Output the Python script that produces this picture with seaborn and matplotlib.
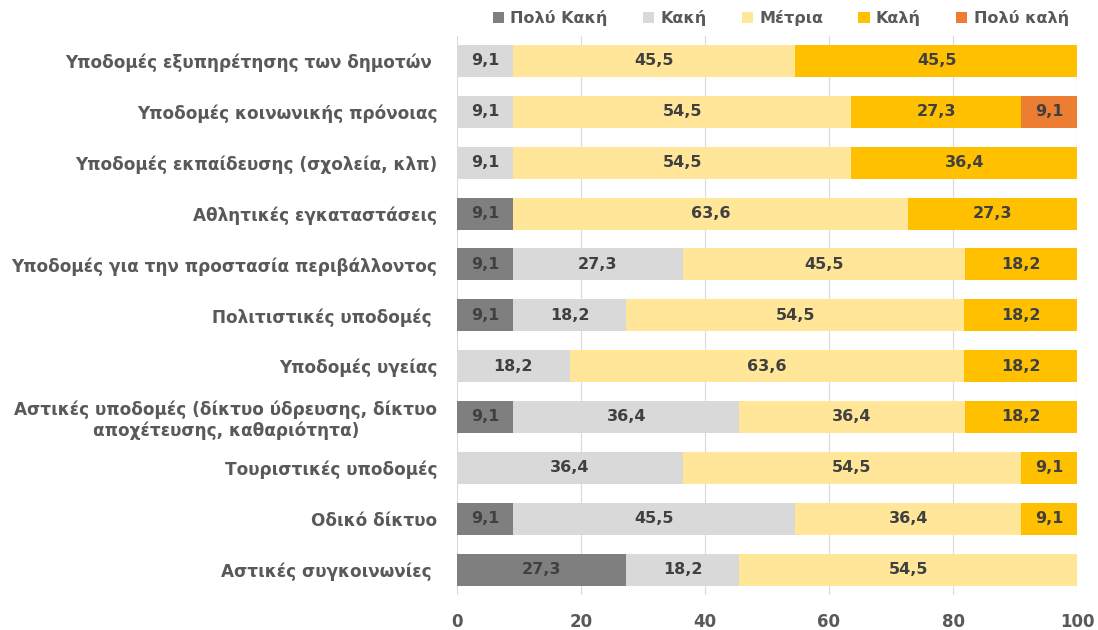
import numpy as np
import pandas as pd
import matplotlib
matplotlib.use("Agg")
import matplotlib.pyplot as plt
from matplotlib.patches import Patch
import seaborn as sns

categories = [
    "Υποδομές εξυπηρέτησης των δημοτών ",
    "Υποδομές κοινωνικής πρόνοιας",
    "Υποδομές εκπαίδευσης (σχολεία, κλπ)",
    "Αθλητικές εγκαταστάσεις",
    "Υποδομές για την προστασία περιβάλλοντος",
    "Πολιτιστικές υποδομές ",
    "Υποδομές υγείας",
    "Αστικές υποδομές (δίκτυο ύδρευσης, δίκτυο\nαποχέτευσης, καθαριότητα)",
    "Τουριστικές υποδομές",
    "Οδικό δίκτυο",
    "Αστικές συγκοινωνίες ",
]
series_names = ["Πολύ Κακή", "Κακή", "Μέτρια", "Καλή", "Πολύ καλή"]
very_bad = [0, 0, 0, 9.1, 9.1, 9.1, 0, 9.1, 0, 9.1, 27.3]
bad = [9.1, 9.1, 9.1, 0, 27.3, 18.2, 18.2, 36.4, 36.4, 45.5, 18.2]
average = [45.5, 54.5, 54.5, 63.6, 45.5, 54.5, 63.6, 36.4, 54.5, 36.4, 54.5]
good = [45.5, 27.3, 36.4, 27.3, 18.2, 18.2, 18.2, 18.2, 9.1, 9.1, 0]
very_good = [0, 9.1, 0, 0, 0, 0, 0, 0, 0, 0, 0]
x_ticks = [0, 20, 40, 60, 80, 100]

colors = ["#7f7f7f", "#d9d9d9", "#ffe699", "#ffc000", "#ed7d31"]
text_color = "#595959"
value_color = "#404040"

sns.set_theme(style="white")
plt.rcParams["font.family"] = ["DejaVu Sans"]

values = np.array([very_bad, bad, average, good, very_good])
cum = np.cumsum(values, axis=0)

fig = plt.figure(figsize=(10.98, 6.3), dpi=100)
ax = fig.add_axes([0.416, 0.0556, 0.565, 0.888])

# stacked bars: draw cumulative totals from the outermost series inward
for i in range(len(series_names) - 1, -1, -1):
    df = pd.DataFrame({"cat": categories, "val": cum[i]})
    sns.barplot(data=df, x="val", y="cat", orient="h", color=colors[i],
                saturation=1, width=0.63, ax=ax, linewidth=0)

# value labels centred in each segment
for i in range(len(series_names)):
    for j in range(len(categories)):
        v = values[i, j]
        if v > 0:
            center = cum[i, j] - v / 2
            ax.text(center, j, f"{v:.1f}".replace(".", ","), ha="center",
                    va="center", fontsize=11.5, fontweight="bold", color=value_color)

ax.set_xlim(0, 100)
ax.set_ylim(len(categories) - 0.5, -0.5)
ax.set_xticks(x_ticks)
ax.set_xticklabels([str(t) for t in x_ticks])
ax.xaxis.grid(True, color="#d9d9d9", linewidth=0.8)
ax.set_axisbelow(True)
ax.set_xlabel("")
ax.set_ylabel("")
for s in ax.spines.values():
    s.set_visible(False)
ax.tick_params(axis="x", length=0, pad=13, labelsize=12, labelcolor=text_color)
ax.tick_params(axis="y", length=0, pad=14, labelsize=12.2, labelcolor=text_color)
for lab in ax.get_xticklabels() + ax.get_yticklabels():
    lab.set_fontweight("bold")
for lab in ax.get_yticklabels():
    lab.set_multialignment("center")

handles = [Patch(facecolor=c, edgecolor="none") for c in colors]
leg = fig.legend(handles, series_names, loc="center", bbox_to_anchor=(0.711, 0.971),
                 ncol=5, frameon=False, handlelength=0.7, handleheight=0.7,
                 handletextpad=0.4, columnspacing=2.2,
                 prop={"size": 11.5, "weight": "bold"})
for t in leg.get_texts():
    t.set_color(text_color)

fig.savefig("out.png", dpi=100)
